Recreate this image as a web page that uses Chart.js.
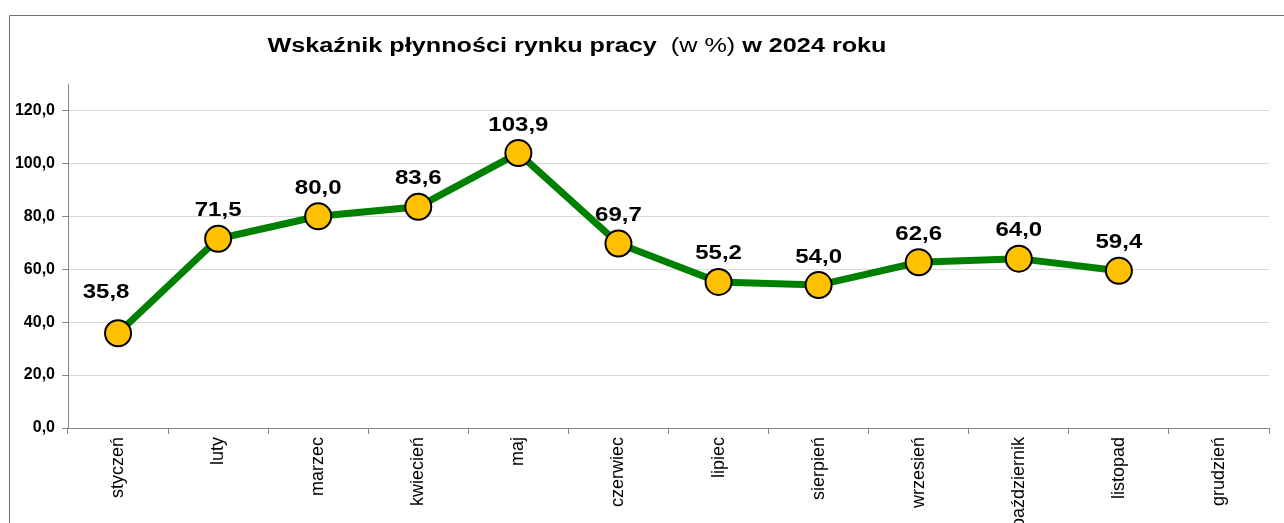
<!DOCTYPE html>
<html>
<head>
<meta charset="utf-8">
<script src="https://cdn.jsdelivr.net/npm/chart.js@4/dist/chart.umd.min.js"></script>
<style>
  html, body { margin: 0; padding: 0; background: #fff; overflow: hidden; }
  #wrap { position: relative; width: 1284px; height: 560px; }
</style>
</head>
<body>
<div id="wrap"><canvas id="liquidityChart" width="1284" height="560"></canvas></div>
<script>
// --- DATA ---
const months = ['styczeń', 'luty', 'marzec', 'kwiecień', 'maj', 'czerwiec',
                'lipiec', 'sierpień', 'wrzesień', 'październik', 'listopad', 'grudzień'];
const liquidity = [35.8, 71.5, 80.0, 83.6, 103.9, 69.7, 55.2, 54.0, 62.6, 64.0, 59.4, null];
const titleParts = ['Wskaźnik płynności rynku pracy  ', '(w %)', ' w 2024 roku'];
const yMin = 0;
const yMax = 130;
const yStep = 20;

const FONT = "'Liberation Sans', Arial, sans-serif";

// comma as decimal separator
function plNum(v) {
    return v.toFixed(1).replace('.', ',');
}

// the original picture is a bit stretched sideways, so is the text
function wideText(ctx, text, x, y, sx) {
    ctx.save();
    ctx.translate(x, y);
    ctx.scale(sx, 1);
    ctx.fillText(text, 0, 0);
    ctx.restore();
}

// frame round the chart + the mixed-weight title
const framePlugin = {
    id: 'frame',
    beforeDraw(chart) {
        const ctx = chart.ctx;
        ctx.save();
        ctx.strokeStyle = '#6f6f6f';
        ctx.lineWidth = 1;
        ctx.beginPath();
        ctx.moveTo(9.5, chart.height);
        ctx.lineTo(9.5, 15.5);
        ctx.lineTo(chart.width, 15.5);
        ctx.stroke();

        // title: bold / normal / bold
        const sx = 1.26;
        const fonts = ['bold 20px ' + FONT, '20px ' + FONT, 'bold 20px ' + FONT];
        let total = 0;
        const widths = titleParts.map((t, i) => {
            ctx.font = fonts[i];
            const w = ctx.measureText(t).width * sx;
            total += w;
            return w;
        });
        let x = 577 - total / 2;
        ctx.fillStyle = '#000';
        ctx.textBaseline = 'middle';
        ctx.textAlign = 'left';
        titleParts.forEach((t, i) => {
            ctx.font = fonts[i];
            wideText(ctx, t, x, 46, sx);
            x += widths[i];
        });
        ctx.restore();
    }
};

// value labels above the points (no datalabels plugin available)
const valueLabels = {
    id: 'valueLabels',
    afterDatasetsDraw(chart) {
        const ctx = chart.ctx;
        const meta = chart.getDatasetMeta(0);
        ctx.save();
        ctx.font = 'bold 20px ' + FONT;
        ctx.fillStyle = '#000';
        ctx.textAlign = 'center';
        ctx.textBaseline = 'middle';
        meta.data.forEach((pt, i) => {
            const v = liquidity[i];
            if (v === null || v === undefined) return;
            // first label sits up-left of its point, like the original
            const dx = i === 0 ? -12 : 0;
            const dy = i === 0 ? -41 : -28;
            wideText(ctx, plNum(v), pt.x + dx, pt.y + dy, 1.2);
        });
        ctx.restore();
    }
};

const ctx = document.getElementById('liquidityChart').getContext('2d');
const liquidityChart = new Chart(ctx, {
    type: 'line',
    data: {
        labels: months,
        datasets: [{
            label: 'Wskaźnik płynności',
            data: liquidity,
            borderColor: '#008000',
            borderWidth: 7,
            backgroundColor: '#FFC000',
            pointBackgroundColor: '#FFC000',
            pointBorderColor: '#000',
            pointBorderWidth: 2,
            pointRadius: 13,
            pointHoverRadius: 13,
            tension: 0,
            spanGaps: false
        }]
    },
    options: {
        responsive: false,
        animation: false,
        layout: { padding: { top: 84, left: 0, right: 15, bottom: 0 } },
        plugins: {
            legend: { display: false },
            title: { display: false },
            tooltip: { enabled: false }
        },
        scales: {
            x: {
                offset: true,
                grid: {
                    offset: true,
                    drawOnChartArea: false,
                    drawTicks: true,
                    tickLength: 6,
                    tickColor: '#868686'
                },
                border: { color: '#868686', width: 1 },
                ticks: {
                    autoSkip: false,
                    minRotation: 90,
                    maxRotation: 90,
                    padding: 3,
                    color: '#000',
                    font: { family: FONT, size: 18 }
                },
                afterFit(scale) { scale.height = 132; }
            },
            y: {
                min: yMin,
                max: yMax,
                grid: {
                    color: '#d9d9d9',
                    lineWidth: 1,
                    drawTicks: true,
                    tickLength: 6,
                    tickColor: '#868686'
                },
                border: { color: '#868686', width: 1 },
                ticks: {
                    stepSize: yStep,
                    padding: 7,
                    color: '#000',
                    font: { family: FONT, size: 16, weight: 'bold' },
                    callback: v => plNum(v)
                },
                afterBuildTicks(scale) {
                    // no label/gridline at the top (130)
                    scale.ticks = scale.ticks.filter(t => t.value % yStep === 0);
                },
                afterFit(scale) { scale.width = 68; }
            }
        }
    },
    plugins: [framePlugin, valueLabels]
});
</script>
</body>
</html>
